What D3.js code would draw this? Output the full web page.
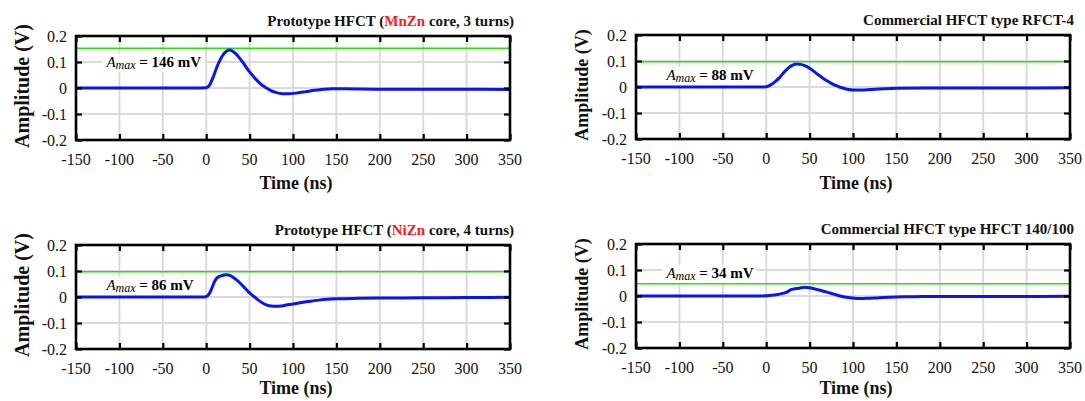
<!DOCTYPE html>
<html>
<head>
<meta charset="utf-8">
<script src="https://cdn.jsdelivr.net/npm/d3@7"></script>
<style>
  body { margin: 0; background: #fff; }
  svg { display: block; font-family: "Liberation Serif", "Times New Roman", serif; }
  .tick-label { font-size: 16px; fill: #111; }
  .axis-title { font-weight: bold; fill: #111; }
  .panel-title { font-weight: bold; font-size: 15px; fill: #111; }
</style>
</head>
<body>
<div id="chart"></div>
<script>
// ---- data ----
xTicks = [-150, -100, -50, 0, 50, 100, 150, 200, 250, 300, 350];
yTicks = [0.2, 0.1, 0, -0.1, -0.2];
yTickLabels = ["0.2", "0.1", "0", "-0.1", "-0.2"];

titles = [
  ["Prototype HFCT (", "MnZn", " core, 3 turns)"],
  ["Commercial HFCT type RFCT-4", "", ""],
  ["Prototype HFCT (", "NiZn", " core, 4 turns)"],
  ["Commercial HFCT type HFCT 140/100", "", ""]
];
amaxValues = ["146 mV", "88 mV", "86 mV", "34 mV"];
thresholds = [0.153, 0.097, 0.097, 0.047];

timeMnZn = [-150, -100, -50, -10, 0, 4, 8, 12, 16, 20, 24, 27, 30, 34, 38, 44, 50, 56, 62, 68, 74, 80, 88, 95, 105, 115, 125, 135, 145, 160, 200, 250, 300, 350];
ampMnZn  = [0, 0, 0, 0, 0.001, 0.012, 0.042, 0.078, 0.108, 0.13, 0.143, 0.146, 0.143, 0.132, 0.117, 0.09, 0.062, 0.038, 0.018, 0.003, -0.009, -0.017, -0.022, -0.022, -0.019, -0.014, -0.009, -0.005, -0.003, -0.003, -0.005, -0.005, -0.005, -0.006];

timeRfct = [-150, -100, -50, -5, 0, 5, 10, 15, 20, 25, 30, 35, 40, 45, 50, 55, 60, 65, 70, 75, 80, 85, 90, 95, 100, 110, 120, 135, 150, 200, 250, 300, 350];
ampRfct  = [0, 0, 0, 0, 0.001, 0.008, 0.02, 0.035, 0.055, 0.072, 0.083, 0.088, 0.087, 0.081, 0.072, 0.06, 0.047, 0.035, 0.024, 0.014, 0.006, -0.001, -0.006, -0.01, -0.012, -0.012, -0.01, -0.007, -0.005, -0.004, -0.004, -0.004, -0.003];

timeNiZn = [-150, -100, -50, -5, 0, 3, 6, 9, 12, 15, 18, 22, 26, 30, 35, 40, 45, 50, 55, 60, 65, 70, 75, 80, 86, 92, 100, 110, 120, 130, 140, 150, 175, 200, 250, 300, 350];
ampNiZn  = [0, 0, 0, 0, 0.001, 0.01, 0.03, 0.055, 0.072, 0.079, 0.082, 0.086, 0.085, 0.078, 0.066, 0.05, 0.033, 0.016, 0.002, -0.012, -0.023, -0.031, -0.035, -0.036, -0.035, -0.031, -0.027, -0.021, -0.016, -0.012, -0.009, -0.007, -0.005, -0.004, -0.003, -0.002, -0.001];

timeHfct = [-150, -100, -50, -5, 0, 10, 20, 25, 28, 32, 38, 44, 50, 56, 62, 70, 78, 85, 92, 100, 108, 115, 125, 135, 150, 165, 180, 200, 250, 300, 350];
ampHfct  = [0, 0, 0, 0, 0.001, 0.004, 0.011, 0.017, 0.024, 0.027, 0.03, 0.034, 0.032, 0.027, 0.022, 0.015, 0.007, 0, -0.005, -0.008, -0.01, -0.009, -0.008, -0.006, -0.004, -0.003, -0.002, -0.002, -0.002, -0.002, -0.001];

series = [
  [timeMnZn, ampMnZn],
  [timeRfct, ampRfct],
  [timeNiZn, ampNiZn],
  [timeHfct, ampHfct]
];

// ---- layout ----
let panels = [
  {left: 76, top: 36, right: 510, bottom: 140, ySize: 20, tDy: 49},
  {left: 636, top: 35, right: 1070, bottom: 139, ySize: 18, tDy: 50},
  {left: 76, top: 245, right: 510, bottom: 349, ySize: 20, tDy: 45},
  {left: 636, top: 244, right: 1070, bottom: 348, ySize: 18, tDy: 46}
];

let svg = d3.select("#chart").append("svg")
  .attr("width", 1085)
  .attr("height", 401);

panels.forEach(function(f, i) {
  let x = d3.scaleLinear().domain([-150, 350]).range([f.left, f.right]);
  let y = d3.scaleLinear().domain([-0.2, 0.2]).range([f.bottom, f.top]);
  let g = svg.append("g").attr("class", "panel");

  // grid
  let grid = g.append("g");
  grid.selectAll("line.gx").data(xTicks.slice(1, -1)).enter().append("line")
    .attr("class", "gx")
    .attr("x1", d => x(d)).attr("x2", d => x(d))
    .attr("y1", f.top).attr("y2", f.bottom)
    .attr("stroke", "#dadada").attr("stroke-width", 2);
  grid.selectAll("line.gy").data(yTicks.slice(1, -1)).enter().append("line")
    .attr("class", "gy")
    .attr("x1", f.left).attr("x2", f.right)
    .attr("y1", d => y(d)).attr("y2", d => y(d))
    .attr("stroke", "#dadada").attr("stroke-width", 2);

  // threshold line
  g.append("line")
    .attr("x1", f.left).attr("x2", f.right)
    .attr("y1", y(thresholds[i])).attr("y2", y(thresholds[i]))
    .attr("stroke", "#1ee600")
    .attr("stroke-width", 1.6);

  // Amax label with white box
  let lab = g.append("g");
  let lx = x(-115), ly = y(thresholds[i]) + (i == 3 ? -6 : 18);
  if (i == 0) ly = y(0.1) + 5;
  let txt = lab.append("text")
    .attr("x", lx).attr("y", ly)
    .style("font-size", "15px");
  txt.append("tspan").style("font-style", "italic").text("A");
  txt.append("tspan").style("font-style", "italic").style("font-size", "12px")
    .attr("dy", 2).text("max");
  txt.append("tspan").attr("dy", -2).style("font-weight", "bold").text(" = " + amaxValues[i]);
  let bb = txt.node().getBBox();
  lab.insert("rect", "text")
    .attr("x", bb.x - 3).attr("y", bb.y)
    .attr("width", bb.width + 6).attr("height", bb.height)
    .attr("fill", "#fff");

  // pulse
  let pts = series[i][0].map((t, k) => [t, series[i][1][k]]);
  let line = d3.line()
    .curve(d3.curveMonotoneX)
    .x(d => x(d[0]))
    .y(d => y(d[1]));
  g.append("path")
    .attr("d", line(pts))
    .attr("fill", "none")
    .attr("stroke", "#0a14f0")
    .attr("stroke-width", 3)
    .attr("stroke-linejoin", "round");

  // inward ticks on all four sides
  let axes = [
    [d3.axisBottom(x).tickValues(xTicks), "translate(0," + f.bottom + ")"],
    [d3.axisTop(x).tickValues(xTicks), "translate(0," + f.top + ")"],
    [d3.axisLeft(y).tickValues(yTicks), "translate(" + f.left + ",0)"],
    [d3.axisRight(y).tickValues(yTicks), "translate(" + f.right + ",0)"]
  ];
  axes.forEach(function(a) {
    let ag = g.append("g").attr("transform", a[1])
      .call(a[0].tickSize(-6).tickFormat("").tickSizeOuter(0));
    ag.select(".domain").remove();
    ag.selectAll(".tick line").attr("stroke", "#000").attr("stroke-width", 2.2);
  });

  // frame
  g.append("rect")
    .attr("x", f.left).attr("y", f.top)
    .attr("width", f.right - f.left).attr("height", f.bottom - f.top)
    .attr("fill", "none").attr("stroke", "#000").attr("stroke-width", 2.6);

  // tick labels
  g.selectAll("text.xl").data(xTicks).enter().append("text")
    .attr("class", "tick-label xl")
    .attr("x", d => x(d)).attr("y", f.bottom + 25)
    .attr("text-anchor", "middle")
    .text(d => d);
  g.selectAll("text.yl").data(yTicks).enter().append("text")
    .attr("class", "tick-label yl")
    .attr("x", f.left - 9).attr("y", d => y(d) + 5.5)
    .attr("text-anchor", "end")
    .text((d, k) => yTickLabels[k]);

  // axis titles
  g.append("text")
    .attr("class", "axis-title")
    .attr("x", (f.left + f.right) / 2 + 3).attr("y", f.bottom + f.tDy)
    .attr("text-anchor", "middle")
    .style("font-size", "18px")
    .text("Time (ns)");
  g.append("text")
    .attr("class", "axis-title")
    .attr("transform", "translate(" + (f.left - 54) + "," + ((f.top + f.bottom) / 2 - 2) + ") rotate(-90)")
    .attr("text-anchor", "middle")
    .attr("dy", "0.35em")
    .style("font-size", f.ySize + "px")
    .text("Amplitude (V)");

  // panel title
  let t = g.append("text")
    .attr("class", "panel-title")
    .attr("x", f.right + 4).attr("y", f.top - 10)
    .attr("text-anchor", "end");
  t.append("tspan").text(titles[i][0]);
  if (titles[i][1]) {
    t.append("tspan").attr("fill", "#ff1a1a").text(titles[i][1]);
    t.append("tspan").text(titles[i][2]);
  }
});
</script>
</body>
</html>
